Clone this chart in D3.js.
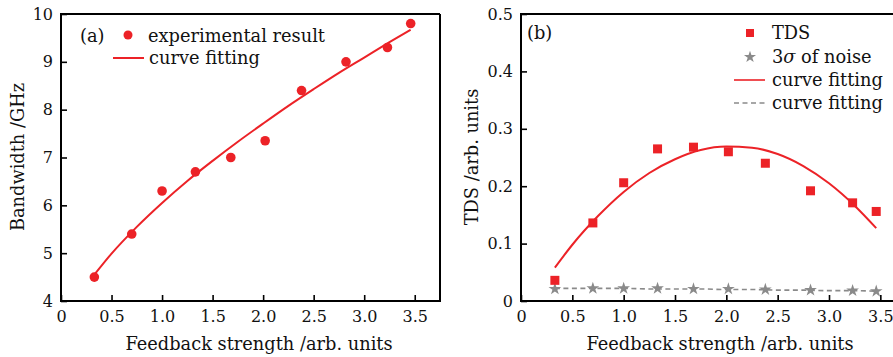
<!DOCTYPE html>
<html>
<head>
<meta charset="utf-8">
<script src="https://cdn.jsdelivr.net/npm/d3@7/dist/d3.min.js"></script>
<style>
  html, body { margin: 0; padding: 0; background: #fff; }
  svg { display: block; font-family: 'DejaVu Serif', serif; }
</style>
</head>
<body>
<svg id="chart" width="893" height="357"></svg>
<script>
// feedback strength of each measurement (both panels)
const feedback = [0.33, 0.70, 1.00, 1.33, 1.68, 2.02, 2.38, 2.82, 3.23, 3.46]

// panel (a)
const bandwidth = [4.50, 5.40, 6.30, 6.70, 7.00, 7.35, 8.40, 9.00, 9.30, 9.80]
const bwFitX = [0.33, 0.5, 0.75, 1.0, 1.25, 1.5, 1.75, 2.0, 2.25, 2.5, 2.75, 3.0, 3.25, 3.46]
const bwFitY = [4.55, 4.99, 5.55, 6.05, 6.51, 6.93, 7.33, 7.71, 8.08, 8.43, 8.77, 9.09, 9.41, 9.67]

// panel (b)
const tds = [0.036, 0.136, 0.206, 0.265, 0.268, 0.260, 0.240, 0.192, 0.171, 0.156]
const noise = [0.021, 0.022, 0.022, 0.022, 0.021, 0.021, 0.020, 0.019, 0.018, 0.017]
const tdsFitX = [0.33, 0.5, 0.75, 1.0, 1.25, 1.5, 1.75, 2.0, 2.25, 2.5, 2.75, 3.0, 3.25, 3.46]
const tdsFitY = [0.058, 0.098, 0.148, 0.190, 0.223, 0.247, 0.263, 0.269, 0.267, 0.256, 0.235, 0.205, 0.166, 0.127]
const noiseFitY = [0.022, 0.022, 0.022, 0.022, 0.021, 0.021, 0.021, 0.020, 0.020, 0.019, 0.019, 0.018, 0.018, 0.017]

const xTicks = [0, 0.5, 1.0, 1.5, 2.0, 2.5, 3.0, 3.5]
const bwTicks = [4, 5, 6, 7, 8, 9, 10]
const tdsTicks = [0, 0.1, 0.2, 0.3, 0.4, 0.5]

const RED = '#ec2227'
const GREY = '#8a8a8a'
const FONT = 16
const LABEL = 17.8

const svg = d3.select('#chart')

function drawFrame(g, x, y, opts) {
  const [x0, x1] = x.range()
  const [y0, y1] = y.range()

  // inward ticks
  g.append('g')
    .attr('transform', `translate(0,${y0})`)
    .call(d3.axisBottom(x).tickValues(xTicks).tickSizeInner(-6).tickSizeOuter(0)
      .tickFormat(d => d === 0 ? '0' : d3.format('.1f')(d)))
    .call(a => a.select('.domain').remove())
    .call(a => a.selectAll('line').attr('stroke', '#000').attr('stroke-width', 1.6))
    .call(a => a.selectAll('text').attr('y', 10).attr('dy', '0.71em')
      .attr('font-size', FONT).attr('font-family', 'DejaVu Serif, serif').attr('fill', '#111'))

  g.append('g')
    .attr('transform', `translate(${x0},0)`)
    .call(d3.axisLeft(y).tickValues(opts.yTicks).tickSizeInner(-6).tickSizeOuter(0)
      .tickFormat(opts.yFormat))
    .call(a => a.select('.domain').remove())
    .call(a => a.selectAll('line').attr('stroke', '#000').attr('stroke-width', 1.6))
    .call(a => a.selectAll('text').attr('x', -8)
      .attr('font-size', FONT).attr('font-family', 'DejaVu Serif, serif').attr('fill', '#111'))

  // box
  g.append('path')
    .attr('d', `M${x1},${y1}H${x0}V${y0}H${x1}V${y1}`)
    .attr('fill', 'none')
    .attr('stroke', '#000')
    .attr('stroke-width', 2)

  g.append('text')
    .attr('x', opts.titleX)
    .attr('y', 350)
    .attr('text-anchor', 'middle')
    .attr('font-size', LABEL)
    .attr('fill', '#111')
    .text('Feedback strength /arb. units')

  g.append('text')
    .attr('transform', `translate(${opts.yTitleX},157) rotate(-90)`)
    .attr('text-anchor', 'middle')
    .attr('font-size', LABEL)
    .attr('fill', '#111')
    .text(opts.yTitle)
}

// ---------- panel (a) ----------
const xa = d3.scaleLinear().domain([0, 3.75]).range([61, 440])
const ya = d3.scaleLinear().domain([4, 10]).range([301, 14])
const ga = svg.append('g')

drawFrame(ga, xa, ya, {
  yTicks: bwTicks,
  yFormat: d3.format('d'),
  yTitle: 'Bandwidth /GHz',
  yTitleX: 24,
  titleX: 259
})

const lineA = d3.line()
  .x((d, i) => xa(bwFitX[i]))
  .y(d => ya(d))
  .curve(d3.curveMonotoneX)

ga.append('path')
  .datum(bwFitY)
  .attr('d', lineA)
  .attr('fill', 'none')
  .attr('stroke', RED)
  .attr('stroke-width', 2)

ga.append('g')
  .selectAll('circle')
  .data(bandwidth)
  .enter()
  .append('circle')
  .attr('cx', (d, i) => xa(feedback[i]))
  .attr('cy', d => ya(d))
  .attr('r', 4.8)
  .attr('fill', RED)

// legend (a)
ga.append('text').attr('x', 80).attr('y', 42).attr('font-size', LABEL).attr('fill', '#111').text('(a)')
ga.append('circle').attr('cx', 128).attr('cy', 35).attr('r', 4.5).attr('fill', RED)
ga.append('text').attr('x', 148).attr('y', 42).attr('font-size', LABEL).attr('fill', '#111').text('experimental result')
ga.append('line').attr('x1', 113).attr('x2', 144).attr('y1', 58).attr('y2', 58).attr('stroke', RED).attr('stroke-width', 2)
ga.append('text').attr('x', 149).attr('y', 64).attr('font-size', LABEL).attr('fill', '#111').text('curve fitting')

// ---------- panel (b) ----------
const xb = d3.scaleLinear().domain([0, 3.75]).range([521, 906])
const yb = d3.scaleLinear().domain([0, 0.5]).range([301, 14])
const gb = svg.append('g')

drawFrame(gb, xb, yb, {
  yTicks: tdsTicks,
  yFormat: d => d === 0 ? '0' : d3.format('.1f')(d),
  yTitle: 'TDS /arb. units',
  yTitleX: 478,
  titleX: 720
})

const lineB = d3.line()
  .x((d, i) => xb(tdsFitX[i]))
  .y(d => yb(d))
  .curve(d3.curveMonotoneX)

gb.append('path')
  .datum(noiseFitY)
  .attr('d', lineB)
  .attr('fill', 'none')
  .attr('stroke', GREY)
  .attr('stroke-width', 1.6)
  .attr('stroke-dasharray', '5,3.5')

gb.append('path')
  .datum(tdsFitY)
  .attr('d', lineB)
  .attr('fill', 'none')
  .attr('stroke', RED)
  .attr('stroke-width', 2)

const star = d3.symbol().type(d3.symbolStar).size(50)

gb.append('g')
  .selectAll('path')
  .data(noise)
  .enter()
  .append('path')
  .attr('d', star)
  .attr('transform', (d, i) => `translate(${xb(feedback[i])},${yb(d)})`)
  .attr('fill', GREY)

gb.append('g')
  .selectAll('rect')
  .data(tds)
  .enter()
  .append('rect')
  .attr('x', (d, i) => xb(feedback[i]) - 4.5)
  .attr('y', d => yb(d) - 4.5)
  .attr('width', 9)
  .attr('height', 9)
  .attr('fill', RED)

// legend (b)
gb.append('text').attr('x', 527).attr('y', 39).attr('font-size', LABEL).attr('fill', '#111').text('(b)')
gb.append('rect').attr('x', 746).attr('y', 29).attr('width', 8).attr('height', 8).attr('fill', RED)
gb.append('text').attr('x', 772).attr('y', 39).attr('font-size', LABEL).attr('fill', '#111').text('TDS')
gb.append('path').attr('d', d3.symbol().type(d3.symbolStar).size(45)).attr('transform', 'translate(750,57)').attr('fill', GREY)
const sigma = gb.append('text').attr('x', 772).attr('y', 63).attr('font-size', LABEL).attr('fill', '#111')
sigma.append('tspan').text('3')
sigma.append('tspan').attr('font-style', 'italic').text('σ')
sigma.append('tspan').text(' of noise')
gb.append('line').attr('x1', 734).attr('x2', 765).attr('y1', 80).attr('y2', 80).attr('stroke', RED).attr('stroke-width', 1.6)
gb.append('text').attr('x', 772).attr('y', 86).attr('font-size', LABEL).attr('fill', '#111').text('curve fitting')
gb.append('line').attr('x1', 734).attr('x2', 765).attr('y1', 103).attr('y2', 103).attr('stroke', GREY).attr('stroke-width', 1.6).attr('stroke-dasharray', '5,3.5')
gb.append('text').attr('x', 772).attr('y', 109).attr('font-size', LABEL).attr('fill', '#111').text('curve fitting')
</script>
</body>
</html>
